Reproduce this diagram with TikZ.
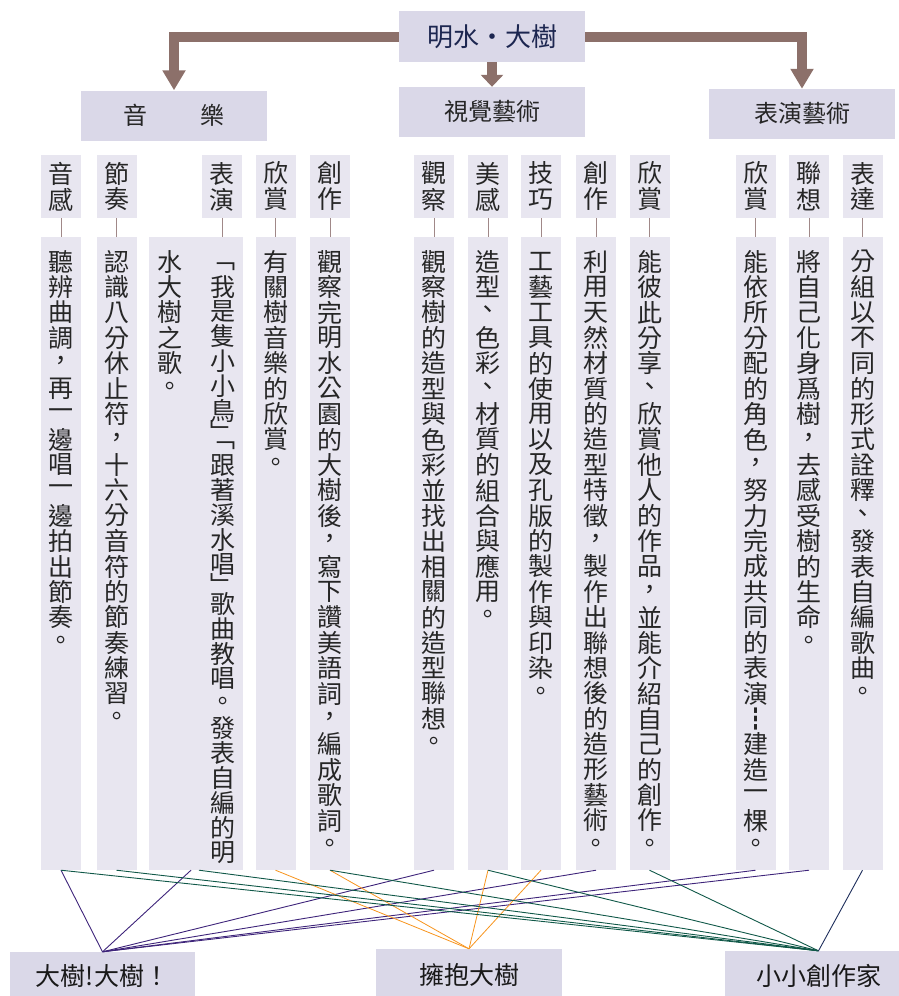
\documentclass[tikz,border=0pt]{standalone}
\usepackage{fontspec}
\setmainfont{Noto Sans CJK TC}
\usetikzlibrary{arrows.meta}
\definecolor{arrowbrown}{RGB}{140,112,106}
\definecolor{boxdark}{RGB}{218,216,232}
\definecolor{boxlight}{RGB}{232,230,240}
\definecolor{stembrown}{RGB}{160,136,136}
\definecolor{linkpurple}{RGB}{62,36,122}
\definecolor{linkgreen}{RGB}{16,88,72}
\definecolor{linkorange}{RGB}{247,148,29}
\definecolor{linknavy}{RGB}{30,46,92}
\definecolor{titlenavy}{RGB}{28,38,80}

% one character per cell, top to bottom
\ExplSyntaxOn
\NewDocumentCommand\vcol{O{25.4pt}m}{
  \vtop{\offinterlineskip
    \tl_map_inline:nn {#2}{
      \tl_if_in:nnTF {﹁﹂}{##1}
        {\vbox to \dimexpr#1*6/10\relax{\vss\hbox to 1em{\hss##1\hss}\vss}}
        {\vbox to #1{\vss\hbox to 1em{\hss##1\hss}\vss}}
    }
  }
}
\ExplSyntaxOff
\newcommand\longtext[1]{\vbox to 633pt{\kern12pt\hbox{#1}\vss}}

\tikzset{
    titlebox/.style={fill=boxdark, minimum width=186pt, minimum height=51pt, inner sep=0pt,
        font=\fontsize{26}{26}\selectfont, text=titlenavy},
    areabox/.style={fill=boxdark, minimum width=186pt, minimum height=50pt, inner sep=0pt,
        font=\fontsize{24}{24}\selectfont, text=black!85},
    headbox/.style={fill=boxlight, minimum width=40pt, minimum height=63pt, inner sep=0pt,
        font=\fontsize{25}{25}\selectfont, text=black!85},
    longbox/.style={fill=boxlight, minimum width=40pt, inner sep=0pt,
        font=\fontsize{25}{25}\selectfont, text=black!85},
    goalbox/.style={fill=boxdark, inner sep=0pt, font=\fontsize{25}{25}\selectfont, text=black!90},
    bigarrow/.style={arrowbrown, line width=10pt, -{Triangle[width=22pt,length=20pt]}},
    stem/.style={stembrown, line width=1pt},
    linkline/.style={line width=0.9pt},
}

\begin{document}
\begin{tikzpicture}[x=1pt,y=-1pt]
	\useasboundingbox (0,0) rectangle (899,996);
	% top and areas
	\node[titlebox] (top) at (492,36.5) {明水・大樹};
	\node[areabox] (music) at (174,115.5) {音\hspace{53pt}樂};
	\node[areabox] (visual) at (492,112) {視覺藝術};
	\node[areabox] (perf) at (802,114) {表演藝術};
	\draw[bigarrow] (top.west) -| (music.north);
	\draw[bigarrow, -{Triangle[width=22pt,length=12pt]}] (top.south) -- (visual.north);
	\draw[bigarrow] (top.east) -| (perf.north);

	% headings
	\node[headbox] (hm1) at (61,186.5) {\vcol[26pt]{音感}};
	\node[headbox] (hm2) at (116.5,186.5) {\vcol[26pt]{節奏}};
	\node[headbox] (hm3) at (222,186.5) {\vcol[26pt]{表演}};
	\node[headbox] (hm4) at (275.5,186.5) {\vcol[26pt]{欣賞}};
	\node[headbox] (hm5) at (330,186.5) {\vcol[26pt]{創作}};
	\node[headbox] (hv1) at (434,186.5) {\vcol[26pt]{觀察}};
	\node[headbox] (hv2) at (488,186.5) {\vcol[26pt]{美感}};
	\node[headbox] (hv3) at (541,186.5) {\vcol[26pt]{技巧}};
	\node[headbox] (hv4) at (596,186.5) {\vcol[26pt]{創作}};
	\node[headbox] (hv5) at (649.5,186.5) {\vcol[26pt]{欣賞}};
	\node[headbox] (hp1) at (755.5,186.5) {\vcol[26pt]{欣賞}};
	\node[headbox] (hp2) at (809,186.5) {\vcol[26pt]{聯想}};
	\node[headbox] (hp3) at (862.5,186.5) {\vcol[26pt]{表達}};

	% columns
	\node[longbox] (lm1) at (61,553.5) {\longtext{\vcol{聽辨曲調，再一邊唱一邊拍出節奏。}}};
	\node[longbox] (lm2) at (116.5,553.5) {\longtext{\vcol{認識八分休止符，十六分音符的節奏練習。}}};
	\node[longbox, minimum width=94pt] (lm3) at (196,553.5)
		{\longtext{\vcol{水大樹之歌。}\hskip28pt\vcol[24.8pt]{﹁我是隻小小鳥﹂﹁跟著溪水唱﹂歌曲教唱。發表自編的明}}};
	\node[longbox] (lm4) at (275.5,553.5) {\longtext{\vcol{有關樹音樂的欣賞。}}};
	\node[longbox] (lm5) at (330,553.5) {\longtext{\vcol{觀察完明水公園的大樹後，寫下讚美語詞，編成歌詞。}}};
	\node[longbox] (lv1) at (434,553.5) {\longtext{\vcol{觀察樹的造型與色彩並找出相關的造型聯想。}}};
	\node[longbox] (lv2) at (488,553.5) {\longtext{\vcol{造型、色彩、材質的組合與應用。}}};
	\node[longbox] (lv3) at (541,553.5) {\longtext{\vcol{工藝工具的使用以及孔版的製作與印染。}}};
	\node[longbox] (lv4) at (596,553.5) {\longtext{\vcol{利用天然材質的造型特徵，製作出聯想後的造形藝術。}}};
	\node[longbox] (lv5) at (649.5,553.5) {\longtext{\vcol{能彼此分享、欣賞他人的作品，並能介紹自己的創作。}}};
	\node[longbox] (lp1) at (755.5,553.5) {\longtext{\vcol{能依所分配的角色，努力完成共同的表演┇建造一棵。}}};
	\node[longbox] (lp2) at (809,553.5) {\longtext{\vcol{將自己化身爲樹，去感受樹的生命。}}};
	\node[longbox] (lp3) at (862.5,553.5) {\longtext{\vcol{分組以不同的形式詮釋、發表自編歌曲。}}};

	\foreach \n in {m1,m2,m3,m4,m5,v1,v2,v3,v4,v5,p1,p2,p3}
		\draw[stem] (h\n.south) -- (h\n.south |- l\n.north);

	% activities
	\node[goalbox, minimum width=185pt, minimum height=48pt] (g1) at (102.5,976) {大樹!大樹！};
	\node[goalbox, minimum width=186pt, minimum height=51pt] (g2) at (469,974.5) {擁抱大樹};
	\node[goalbox, minimum width=187pt, minimum height=49pt] (g3) at (818.5,975.5) {小小創作家};

	\draw[linkline, linkpurple] (lm1.south) -- (g1.north);
	\draw[linkline, linkpurple] ([xshift=-5pt]lm3.south) -- (g1.north);
	\foreach \n in {v1,v4,p1,p2}
		\draw[linkline, linkpurple] (l\n.south) -- (g1.north);
	\foreach \n in {m4,m5,v2,v3}
		\draw[linkline, linkorange, line width=0.8pt] (l\n.south) -- (g2.north);
	\draw[linkline, linkgreen] ([xshift=3pt]lm3.south) -- (g3.north);
	\foreach \n in {m1,m2,m5,v2,v5}
		\draw[linkline, linkgreen] (l\n.south) -- (g3.north);
	\draw[linkline, linknavy] (lp3.south) -- (g3.north);
\end{tikzpicture}
\end{document}
